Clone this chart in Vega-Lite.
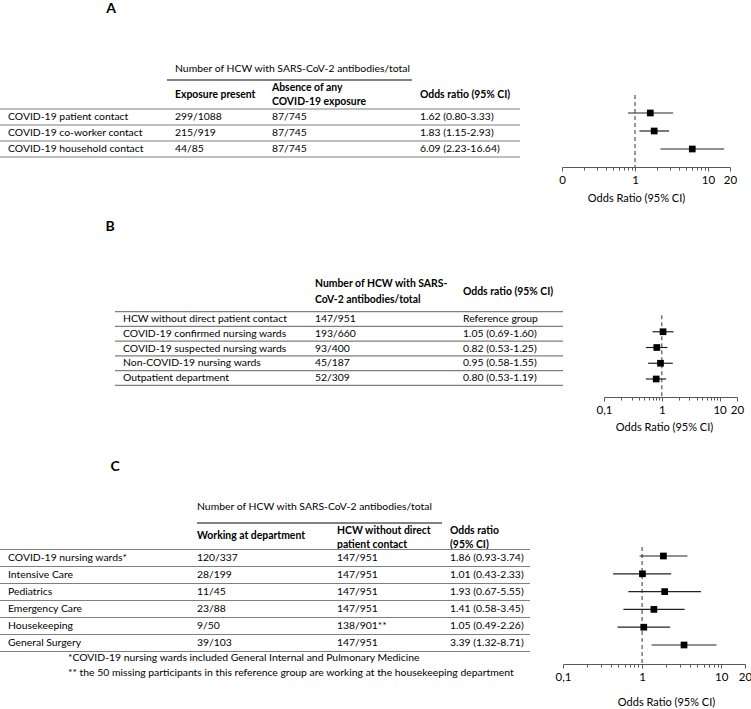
{
  "$schema": "https://vega.github.io/schema/vega-lite/v6.json",
  "width": 751,
  "height": 709,
  "autosize": {"type": "none"},
  "padding": 0,
  "background": "white",
  "config": {
    "view": {"stroke": null},
    "text": {"font": "Lato", "fontSize": 10.4, "align": "left", "baseline": "middle", "color": "#000", "lineBreak": "\n", "lineHeight": 14},
    "axis": {"grid": false, "labelFont": "Lato", "titleFont": "Lato", "labelFontSize": 11.5, "titleFontSize": 11, "titleFontWeight": "normal", "labelColor": "#000", "titleColor": "#000", "domainColor": "#595959", "tickColor": "#595959", "labelOverlap": false, "labelFlush": false, "labelBound": false}
  },
  "datasets": {
    "letters": [
      {"panel": "A", "index": 1},
      {"panel": "B", "index": 2},
      {"panel": "C", "index": 3}
    ],
    "tableA": [
      {"part": "group", "row": -1, "col": 1, "colEnd": 3, "text": "Number of HCW with SARS-CoV-2 antibodies/total"},
      {"part": "header", "row": 0, "col": 1, "text": "Exposure present"},
      {"part": "header", "row": 0, "col": 2, "text": "Absence of any\nCOVID-19 exposure"},
      {"part": "header", "row": 0, "col": 3, "text": "Odds ratio (95% CI)"},
      {"part": "body", "row": 1, "col": 0, "text": "COVID-19 patient contact"},
      {"part": "body", "row": 1, "col": 1, "text": "299/1088"},
      {"part": "body", "row": 1, "col": 2, "text": "87/745"},
      {"part": "body", "row": 1, "col": 3, "text": "1.62 (0.80-3.33)"},
      {"part": "body", "row": 2, "col": 0, "text": "COVID-19 co-worker contact"},
      {"part": "body", "row": 2, "col": 1, "text": "215/919"},
      {"part": "body", "row": 2, "col": 2, "text": "87/745"},
      {"part": "body", "row": 2, "col": 3, "text": "1.83 (1.15-2.93)"},
      {"part": "body", "row": 3, "col": 0, "text": "COVID-19 household contact"},
      {"part": "body", "row": 3, "col": 1, "text": "44/85"},
      {"part": "body", "row": 3, "col": 2, "text": "87/745"},
      {"part": "body", "row": 3, "col": 3, "text": "6.09 (2.23-16.64)"}
    ],
    "forestA": [
      {"row": 1, "or": 1.62, "lo": 0.80, "hi": 3.33},
      {"row": 2, "or": 1.83, "lo": 1.15, "hi": 2.93},
      {"row": 3, "or": 6.09, "lo": 2.23, "hi": 16.64}
    ],
    "tableB": [
      {"part": "header", "row": 0, "col": 1, "text": "Number of HCW with SARS-\nCoV-2 antibodies/total"},
      {"part": "header", "row": 0, "col": 2, "text": "Odds ratio (95% CI)"},
      {"part": "body", "row": 1, "col": 0, "text": "HCW without direct patient contact"},
      {"part": "body", "row": 1, "col": 1, "text": "147/951"},
      {"part": "body", "row": 1, "col": 2, "text": "Reference group"},
      {"part": "body", "row": 2, "col": 0, "text": "COVID-19 confirmed nursing wards"},
      {"part": "body", "row": 2, "col": 1, "text": "193/660"},
      {"part": "body", "row": 2, "col": 2, "text": "1.05 (0.69-1.60)"},
      {"part": "body", "row": 3, "col": 0, "text": "COVID-19 suspected nursing wards"},
      {"part": "body", "row": 3, "col": 1, "text": "93/400"},
      {"part": "body", "row": 3, "col": 2, "text": "0.82 (0.53-1.25)"},
      {"part": "body", "row": 4, "col": 0, "text": "Non-COVID-19 nursing wards"},
      {"part": "body", "row": 4, "col": 1, "text": "45/187"},
      {"part": "body", "row": 4, "col": 2, "text": "0.95 (0.58-1.55)"},
      {"part": "body", "row": 5, "col": 0, "text": "Outpatient department"},
      {"part": "body", "row": 5, "col": 1, "text": "52/309"},
      {"part": "body", "row": 5, "col": 2, "text": "0.80 (0.53-1.19)"}
    ],
    "forestB": [
      {"row": 2, "or": 1.05, "lo": 0.69, "hi": 1.60},
      {"row": 3, "or": 0.82, "lo": 0.53, "hi": 1.25},
      {"row": 4, "or": 0.95, "lo": 0.58, "hi": 1.55},
      {"row": 5, "or": 0.80, "lo": 0.53, "hi": 1.19}
    ],
    "tableC": [
      {"part": "group", "row": -1, "col": 1, "colEnd": 3, "text": "Number of HCW  with SARS-CoV-2 antibodies/total"},
      {"part": "header", "row": 0, "col": 1, "text": "Working at department"},
      {"part": "header", "row": 0, "col": 2, "text": "HCW without direct\npatient contact"},
      {"part": "header", "row": 0, "col": 3, "text": "Odds ratio\n(95% CI)"},
      {"part": "body", "row": 1, "col": 0, "text": "COVID-19 nursing wards*"},
      {"part": "body", "row": 1, "col": 1, "text": "120/337"},
      {"part": "body", "row": 1, "col": 2, "text": "147/951"},
      {"part": "body", "row": 1, "col": 3, "text": "1.86 (0.93-3.74)"},
      {"part": "body", "row": 2, "col": 0, "text": "Intensive Care"},
      {"part": "body", "row": 2, "col": 1, "text": "28/199"},
      {"part": "body", "row": 2, "col": 2, "text": "147/951"},
      {"part": "body", "row": 2, "col": 3, "text": "1.01 (0.43-2.33)"},
      {"part": "body", "row": 3, "col": 0, "text": "Pediatrics"},
      {"part": "body", "row": 3, "col": 1, "text": "11/45"},
      {"part": "body", "row": 3, "col": 2, "text": "147/951"},
      {"part": "body", "row": 3, "col": 3, "text": "1.93 (0.67-5.55)"},
      {"part": "body", "row": 4, "col": 0, "text": "Emergency Care"},
      {"part": "body", "row": 4, "col": 1, "text": "23/88"},
      {"part": "body", "row": 4, "col": 2, "text": "147/951"},
      {"part": "body", "row": 4, "col": 3, "text": "1.41 (0.58-3.45)"},
      {"part": "body", "row": 5, "col": 0, "text": "Housekeeping"},
      {"part": "body", "row": 5, "col": 1, "text": "9/50"},
      {"part": "body", "row": 5, "col": 2, "text": "138/901**"},
      {"part": "body", "row": 5, "col": 3, "text": "1.05 (0.49-2.26)"},
      {"part": "body", "row": 6, "col": 0, "text": "General Surgery"},
      {"part": "body", "row": 6, "col": 1, "text": "39/103"},
      {"part": "body", "row": 6, "col": 2, "text": "147/951"},
      {"part": "body", "row": 6, "col": 3, "text": "3.39 (1.32-8.71)"}
    ],
    "forestC": [
      {"row": 1, "or": 1.86, "lo": 0.93, "hi": 3.74},
      {"row": 2, "or": 1.01, "lo": 0.43, "hi": 2.33},
      {"row": 3, "or": 1.93, "lo": 0.67, "hi": 5.55},
      {"row": 4, "or": 1.41, "lo": 0.58, "hi": 3.45},
      {"row": 5, "or": 1.05, "lo": 0.49, "hi": 2.26},
      {"row": 6, "or": 3.39, "lo": 1.32, "hi": 8.71}
    ],
    "notes": [
      {"n": 1, "text": "*COVID-19 nursing wards included General Internal and Pulmonary Medicine"},
      {"n": 2, "text": "** the 50 missing participants in this reference group are working at the housekeeping department"}
    ]
  },
  "layer": [
    {
      "data": {"name": "letters"},
      "mark": {"type": "text", "fontWeight": "bold", "fontSize": 14, "align": "center"},
      "encoding": {
        "x": {"field": "index", "type": "quantitative", "scale": {"domain": [1, 2, 3], "range": [111, 110, 115], "nice": false, "zero": false}, "axis": null},
        "y": {"field": "index", "type": "quantitative", "scale": {"domain": [1, 2, 3], "range": [9, 227, 467], "nice": false, "zero": false}, "axis": null},
        "text": {"field": "panel"}
      }
    },
    {
      "data": {"name": "tableA"},
      "encoding": {
        "x": {"field": "col", "type": "quantitative", "scale": {"domain": [0, 1, 2, 3, 4], "range": [0, 167, 264, 412, 520], "nice": false, "zero": false}, "axis": null},
        "y": {"field": "row", "type": "quantitative", "scale": {"domain": [-1, 0, 1, 3], "range": [69, 95, 117, 149], "nice": false, "zero": false}, "axis": null}
      },
      "layer": [
        {"transform": [{"filter": "datum.part == 'group'"}], "mark": {"type": "text", "dx": 8}, "encoding": {"text": {"field": "text"}}},
        {"transform": [{"filter": "datum.part == 'group'"}], "mark": {"type": "rule", "yOffset": 11, "color": "#595959", "strokeWidth": 1.3}, "encoding": {"x2": {"field": "colEnd"}}},
        {"transform": [{"filter": "datum.part == 'header' && indexof(datum.text, '\\n') < 0"}], "mark": {"type": "text", "dx": 8, "fontWeight": "bold"}, "encoding": {"text": {"field": "text"}}},
        {"transform": [{"filter": "datum.part == 'header' && indexof(datum.text, '\\n') >= 0"}], "mark": {"type": "text", "dx": 8, "dy": -7, "fontWeight": "bold"}, "encoding": {"text": {"field": "text"}}},
        {"transform": [{"filter": "datum.part == 'body'"}], "mark": {"type": "text", "dx": 8}, "encoding": {"text": {"field": "text"}}},
        {"transform": [{"filter": "datum.part == 'body' && datum.col == 0"}], "mark": {"type": "rule", "yOffset": -8, "color": "#7f7f7f", "strokeWidth": 1.2}, "encoding": {"x": {"datum": 0, "type": "quantitative"}, "x2": {"datum": 4}}},
        {"transform": [{"filter": "datum.part == 'body' && datum.col == 0 && datum.row == 3"}], "mark": {"type": "rule", "yOffset": 8, "color": "#7f7f7f", "strokeWidth": 1.2}, "encoding": {"x": {"datum": 0, "type": "quantitative"}, "x2": {"datum": 4}}}
      ]
    },
    {
      "data": {"name": "forestA"},
      "encoding": {
        "y": {"field": "row", "type": "quantitative", "scale": {"domain": [0, 4], "range": [95, 167], "nice": false, "zero": false}, "axis": null}
      },
      "layer": [
        {"transform": [{"filter": "datum.row == 1"}], "mark": {"type": "rule", "strokeDash": [4, 3], "color": "#555", "strokeWidth": 1.2},
         "encoding": {
           "x": {"datum": 1, "type": "quantitative", "scale": {"type": "log", "domain": [0.1, 20], "range": [562, 730], "nice": false}, "axis": {"orient": "bottom", "offset": -542, "values": [0.2, 0.3, 0.4, 0.5, 0.6, 0.7, 0.8, 0.9, 2, 3, 4, 5, 6, 7, 8, 9], "labels": false, "domain": false, "tickSize": 3, "title": null}},
           "y": {"datum": 0, "type": "quantitative"}, "y2": {"datum": 4}}},
        {"mark": {"type": "rule", "color": "#222", "strokeWidth": 1.2},
         "encoding": {"x": {"field": "lo", "type": "quantitative", "scale": {"type": "log", "domain": [0.1, 20], "range": [562, 730], "nice": false}, "axis": null}, "x2": {"field": "hi"}}},
        {"mark": {"type": "point", "shape": "square", "filled": true, "color": "#000", "opacity": 1, "size": 45},
         "encoding": {"x": {"field": "or", "type": "quantitative", "scale": {"type": "log", "domain": [0.1, 20], "range": [562, 730], "nice": false},
           "axis": {"orient": "bottom", "offset": -542, "values": [0.1, 1, 10, 20], "labelExpr": "datum.value < 0.5 ? '0' : format(datum.value, 'd')", "tickSize": 4, "labelPadding": 3, "title": "Odds Ratio (95% CI)", "titleX": 636, "titleY": 31, "titleBaseline": "middle", "titleAlign": "center"}}}}
      ],
      "resolve": {"axis": {"x": "independent"}}
    },
    {
      "data": {"name": "tableB"},
      "encoding": {
        "x": {"field": "col", "type": "quantitative", "scale": {"domain": [0, 1, 2, 3], "range": [115, 307, 455, 563], "nice": false, "zero": false}, "axis": null},
        "y": {"field": "row", "type": "quantitative", "scale": {"domain": [0, 1, 5], "range": [292, 319, 378], "nice": false, "zero": false}, "axis": null}
      },
      "layer": [
        {"transform": [{"filter": "datum.part == 'header' && indexof(datum.text, '\\n') < 0"}], "mark": {"type": "text", "dx": 8, "fontWeight": "bold"}, "encoding": {"text": {"field": "text"}}},
        {"transform": [{"filter": "datum.part == 'header' && indexof(datum.text, '\\n') >= 0"}], "mark": {"type": "text", "dx": 8, "dy": -8, "lineHeight": 16, "fontWeight": "bold"}, "encoding": {"text": {"field": "text"}}},
        {"transform": [{"filter": "datum.part == 'body'"}], "mark": {"type": "text", "dx": 8}, "encoding": {"text": {"field": "text"}}},
        {"transform": [{"filter": "datum.part == 'body' && datum.col == 0"}], "mark": {"type": "rule", "yOffset": -7.4, "color": "#7f7f7f", "strokeWidth": 1.2}, "encoding": {"x": {"datum": 0, "type": "quantitative"}, "x2": {"datum": 3}}},
        {"transform": [{"filter": "datum.part == 'body' && datum.col == 0 && datum.row == 5"}], "mark": {"type": "rule", "yOffset": 7.4, "color": "#7f7f7f", "strokeWidth": 1.2}, "encoding": {"x": {"datum": 0, "type": "quantitative"}, "x2": {"datum": 3}}}
      ]
    },
    {
      "data": {"name": "forestB"},
      "encoding": {
        "y": {"field": "row", "type": "quantitative", "scale": {"domain": [1, 5], "range": [316, 379], "nice": false, "zero": false}, "axis": null}
      },
      "layer": [
        {"transform": [{"filter": "datum.row == 2"}], "mark": {"type": "rule", "strokeDash": [4, 3], "color": "#555", "strokeWidth": 1.2},
         "encoding": {
           "x": {"datum": 1, "type": "quantitative", "scale": {"type": "log", "domain": [0.1, 20], "range": [604, 737], "nice": false}, "axis": {"orient": "bottom", "offset": -312, "values": [0.2, 0.3, 0.4, 0.5, 0.6, 0.7, 0.8, 0.9, 2, 3, 4, 5, 6, 7, 8, 9], "labels": false, "domain": false, "tickSize": 3, "title": null}},
           "y": {"datum": 0.95, "type": "quantitative"}, "y2": {"datum": 6.15}}},
        {"mark": {"type": "rule", "color": "#222", "strokeWidth": 1.2},
         "encoding": {"x": {"field": "lo", "type": "quantitative", "scale": {"type": "log", "domain": [0.1, 20], "range": [604, 737], "nice": false}, "axis": null}, "x2": {"field": "hi"}}},
        {"mark": {"type": "point", "shape": "square", "filled": true, "color": "#000", "opacity": 1, "size": 45},
         "encoding": {"x": {"field": "or", "type": "quantitative", "scale": {"type": "log", "domain": [0.1, 20], "range": [604, 737], "nice": false},
           "axis": {"orient": "bottom", "offset": -312, "values": [0.1, 1, 10, 20], "labelExpr": "datum.value < 0.5 ? '0,1' : format(datum.value, 'd')", "tickSize": 4, "labelPadding": 3, "title": "Odds Ratio (95% CI)", "titleX": 664, "titleY": 30, "titleBaseline": "middle", "titleAlign": "center"}}}}
      ],
      "resolve": {"axis": {"x": "independent"}}
    },
    {
      "data": {"name": "tableC"},
      "encoding": {
        "x": {"field": "col", "type": "quantitative", "scale": {"domain": [0, 1, 2, 3, 4], "range": [0, 189, 329, 442, 530], "nice": false, "zero": false}, "axis": null},
        "y": {"field": "row", "type": "quantitative", "scale": {"domain": [-1, 0, 1, 6], "range": [507, 538, 558, 643], "nice": false, "zero": false}, "axis": null}
      },
      "layer": [
        {"transform": [{"filter": "datum.part == 'group'"}], "mark": {"type": "text", "dx": 8}, "encoding": {"text": {"field": "text"}}},
        {"transform": [{"filter": "datum.part == 'group'"}], "mark": {"type": "rule", "yOffset": 16, "xOffset": 8, "color": "#595959", "strokeWidth": 1.3}, "encoding": {"x2": {"field": "colEnd"}}},
        {"transform": [{"filter": "datum.part == 'header' && indexof(datum.text, '\\n') < 0"}], "mark": {"type": "text", "dx": 8, "dy": -2, "fontWeight": "bold"}, "encoding": {"text": {"field": "text"}}},
        {"transform": [{"filter": "datum.part == 'header' && indexof(datum.text, '\\n') >= 0"}], "mark": {"type": "text", "dx": 8, "dy": -7, "fontWeight": "bold"}, "encoding": {"text": {"field": "text"}}},
        {"transform": [{"filter": "datum.part == 'body'"}], "mark": {"type": "text", "dx": 8}, "encoding": {"text": {"field": "text"}}},
        {"transform": [{"filter": "datum.part == 'body' && datum.col == 0"}], "mark": {"type": "rule", "yOffset": -8.5, "color": "#7f7f7f", "strokeWidth": 1.2}, "encoding": {"x": {"datum": 0, "type": "quantitative"}, "x2": {"datum": 4}}},
        {"transform": [{"filter": "datum.part == 'body' && datum.col == 0 && datum.row == 6"}], "mark": {"type": "rule", "yOffset": 8.5, "color": "#7f7f7f", "strokeWidth": 1.2}, "encoding": {"x": {"datum": 0, "type": "quantitative"}, "x2": {"datum": 4}}}
      ]
    },
    {
      "data": {"name": "forestC"},
      "encoding": {
        "y": {"field": "row", "type": "quantitative", "scale": {"domain": [1, 6], "range": [556, 645], "nice": false, "zero": false}, "axis": null}
      },
      "layer": [
        {"transform": [{"filter": "datum.row == 1"}], "mark": {"type": "rule", "strokeDash": [4, 3], "color": "#555", "strokeWidth": 1.2},
         "encoding": {
           "x": {"datum": 1, "type": "quantitative", "scale": {"type": "log", "domain": [0.1, 20], "range": [563, 745], "nice": false}, "axis": {"orient": "bottom", "offset": -45, "values": [0.2, 0.3, 0.4, 0.5, 0.6, 0.7, 0.8, 0.9, 2, 3, 4, 5, 6, 7, 8, 9], "labels": false, "domain": false, "tickSize": 3, "title": null}},
           "y": {"datum": 0.5, "type": "quantitative"}, "y2": {"datum": 7.07}}},
        {"mark": {"type": "rule", "color": "#222", "strokeWidth": 1.2},
         "encoding": {"x": {"field": "lo", "type": "quantitative", "scale": {"type": "log", "domain": [0.1, 20], "range": [563, 745], "nice": false}, "axis": null}, "x2": {"field": "hi"}}},
        {"mark": {"type": "point", "shape": "square", "filled": true, "color": "#000", "opacity": 1, "size": 45},
         "encoding": {"x": {"field": "or", "type": "quantitative", "scale": {"type": "log", "domain": [0.1, 20], "range": [563, 745], "nice": false},
           "axis": {"orient": "bottom", "offset": -45, "values": [0.1, 1, 10, 20], "labelExpr": "datum.value < 0.5 ? '0,1' : format(datum.value, 'd')", "tickSize": 4, "labelPadding": 3, "title": "Odds Ratio (95% CI)", "titleX": 666, "titleY": 38, "titleBaseline": "middle", "titleAlign": "center"}}}}
      ],
      "resolve": {"axis": {"x": "independent"}}
    },
    {
      "data": {"name": "notes"},
      "mark": {"type": "text"},
      "encoding": {
        "x": {"field": "n", "type": "quantitative", "scale": {"domain": [1, 2], "range": [68, 68], "nice": false, "zero": false}, "axis": null},
        "y": {"field": "n", "type": "quantitative", "scale": {"domain": [1, 2], "range": [658, 673], "nice": false, "zero": false}, "axis": null},
        "text": {"field": "text"}
      }
    }
  ],
  "resolve": {"scale": {"x": "independent", "y": "independent"}, "axis": {"x": "independent", "y": "independent"}}
}
